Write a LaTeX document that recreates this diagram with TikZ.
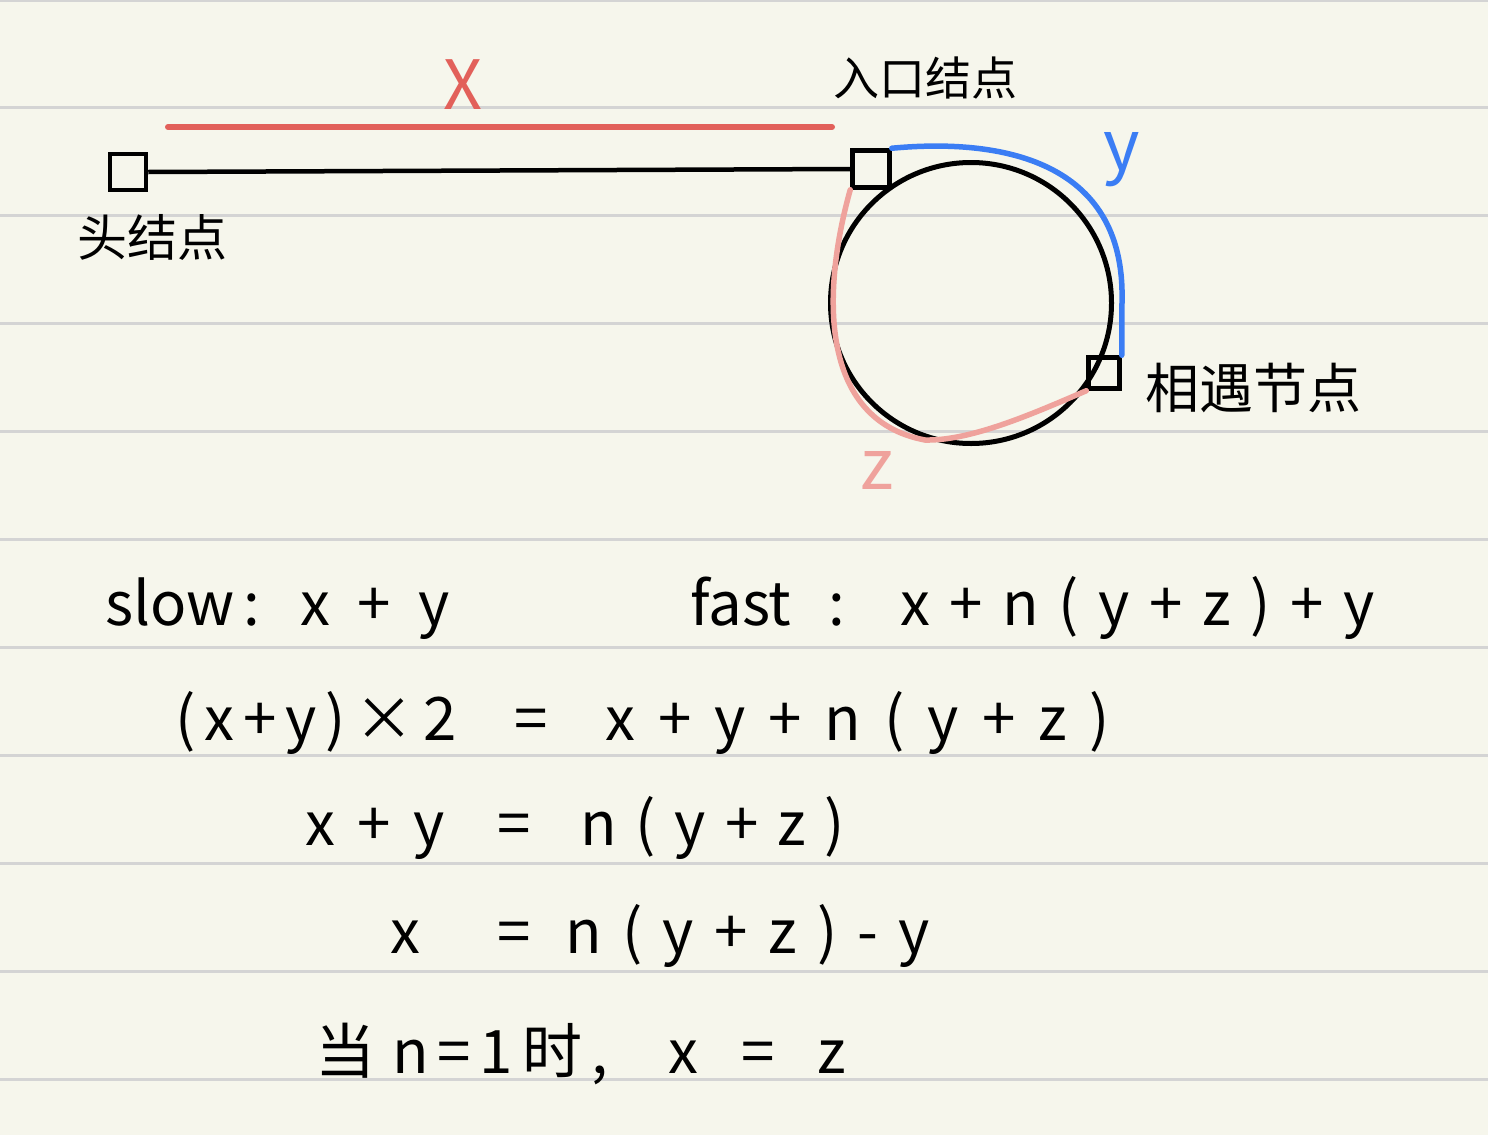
\documentclass[tikz,border=0pt]{standalone}
\usepackage{fontspec}
\setmainfont{Noto Sans CJK SC}
\definecolor{paper}{HTML}{F6F6EC}
\definecolor{ruleline}{HTML}{D4D4D4}
\definecolor{xred}{HTML}{E2605A}
\definecolor{yblue}{HTML}{3B7DF4}
\definecolor{zpink}{HTML}{EFA29C}
\newcommand\spr[2]{\makebox[#1pt][s]{#2}}
\tikzset{
  rl/.style={draw=ruleline, line width=3pt},
  nodebox/.style={draw=black, line width=4.5pt, inner sep=0pt, rectangle},
  link/.style={draw=black, line width=4.5pt},
  lbl/.style={font=\fontsize{50}{56}\selectfont, inner sep=0pt},
  eq/.style={font=\fontsize{60}{66}\selectfont, inner sep=0pt, anchor=base west},
}
\begin{document}
\begin{tikzpicture}[x=1pt,y=-1pt]
\fill[paper] (0,0) rectangle (1488,1135);
\useasboundingbox (0,0) rectangle (1488,1135);
\draw[draw=ruleline, line width=2pt] (0,1) -- (1488,1);
\foreach \k in {0,...,9} \draw[rl] (0,{107+108*\k}) -- (1488,{107+108*\k});

% nodes
\node[nodebox, minimum size=36pt] (head) at (128,172) {};
\node[nodebox, minimum size=37pt] (entry) at (871,169) {};
\node[nodebox, minimum size=31pt] (meet) at (1104,373) {};
\node[draw=black, line width=5pt, circle, inner sep=0pt, minimum size=281pt] (ring) at (971,303) {};

\draw[link] (head.east) -- (entry.west);

% x measure
\coordinate (xa) at (168,127);
\coordinate (xb) at (832,127);
\draw[xred, line width=6pt, line cap=round] (xa) -- (xb);
\node[font=\fontsize{68}{70}\selectfont, text=xred, inner sep=0pt] (xl) at (463,85) {X};

% y arc
\draw[yblue, line width=5.5pt, line cap=round] (entry.north east) .. controls (1000,138) and (1125,160) .. (1122,300) -- (meet.north east);
\node[font=\fontsize{70}{72}\selectfont, text=yblue, inner sep=0pt] (yl) at (1122,160) {y};

% z arc
\draw[zpink, line width=5.5pt, line cap=round] (entry.south west) .. controls (822,290) and (818,420) .. (925,440) .. controls (970,441) and (1030,415) .. (meet.south west);
\node[font=\fontsize{70}{72}\selectfont, text=zpink, inner sep=0pt] (zl) at (877,470) {z};

% labels
\node[lbl] (headl) at (152,237) {头结点};
\node[lbl, font=\fontsize{46}{50}\selectfont] (entryl) at (925,78) {入口结点};
\node[lbl, font=\fontsize{54}{60}\selectfont] (meetl) at (1253,388) {相遇节点};

% equations
\node[eq] (r1a) at (105,625) {\spr{140}{slow :}};
\node[eq] (r1b) at (300,625) {\spr{150}{x + y}};
\node[eq] (r1c) at (690,625) {\spr{155}{fast :}};
\node[eq] (r1d) at (900,625) {\spr{475}{x + n ( y + z ) + y}};

\node[eq] (r2a) at (175,740) {\spr{272}{( x + y ) × 2}};
\node[eq] (r2b) at (514,740) {=};
\node[eq] (r2c) at (605,740) {\spr{505}{x + y + n ( y + z )}};

\node[eq] (r3a) at (305,845) {\spr{140}{x + y}};
\node[eq] (r3b) at (497,845) {=};
\node[eq] (r3c) at (580,845) {\spr{265}{n ( y + z )}};

\node[eq] (r4a) at (390,953) {x};
\node[eq] (r4b) at (497,953) {=};
\node[eq] (r4c) at (565,953) {\spr{365}{n ( y + z ) - y}};

\node[eq] (r5a) at (315,1073) {当};
\node[eq] (r5b) at (392,1073) {\spr{213}{n = 1 时 ,}};
\node[eq] (r5c) at (668,1073) {\spr{178}{x = z}};
\end{tikzpicture}
\end{document}
